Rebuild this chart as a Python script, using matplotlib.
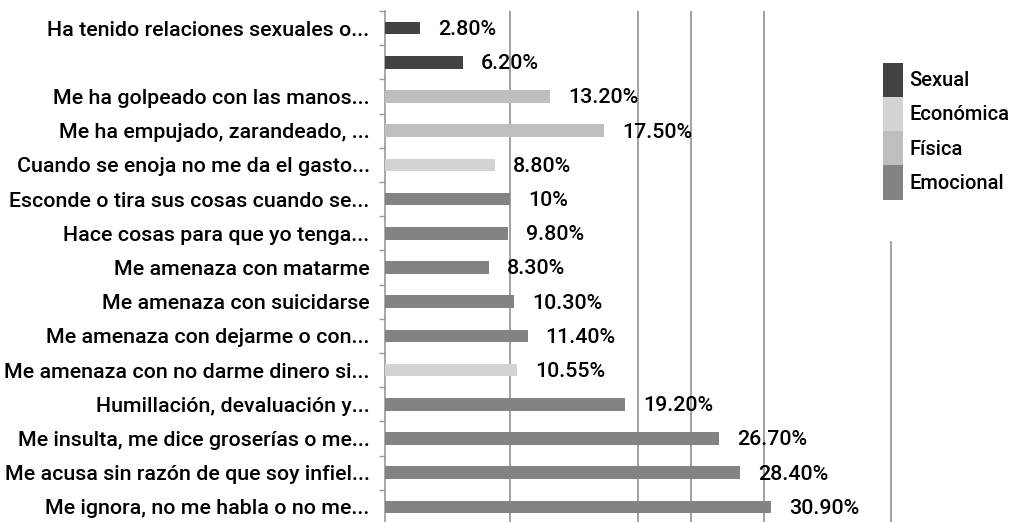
import matplotlib.pyplot as plt
from matplotlib.patches import Patch

# data, top to bottom as in the chart
labels = ["Ha tenido relaciones sexuales o...", "",
          "Me ha golpeado con las manos...", "Me ha empujado, zarandeado, ...",
          "Cuando se enoja no me da el gasto...", "Esconde o tira sus cosas cuando se...",
          "Hace cosas para que yo tenga...", "Me amenaza con matarme",
          "Me amenaza con suicidarse", "Me amenaza con dejarme o con...",
          "Me amenaza con no darme dinero si...", "Humillación, devaluación y...",
          "Me insulta, me dice groserías o me...", "Me acusa sin razón de que soy infiel...",
          "Me ignora, no me habla o no me..."]
values = [2.8, 6.2, 13.2, 17.5, 8.8, 10, 9.8, 8.3, 10.3, 11.4, 10.55, 19.2, 26.7, 28.4, 30.9]
value_text = ["2.80%", "6.20%", "13.20%", "17.50%", "8.80%", "10%", "9.80%", "8.30%",
              "10.30%", "11.40%", "10.55%", "19.20%", "26.70%", "28.40%", "30.90%"]
kinds = ["Sexual", "Sexual", "Física", "Física", "Económica", "Emocional", "Emocional",
         "Emocional", "Emocional", "Emocional", "Económica", "Emocional", "Emocional",
         "Emocional", "Emocional"]
kind_order = ["Sexual", "Económica", "Física", "Emocional"]
kind_colors = {"Sexual": "#424242", "Económica": "#d3d3d3",
               "Física": "#bebebe", "Emocional": "#838386"}
grid_x = [10, 20.2, 24.5, 30.3]

plt.rcParams['font.family'] = ['Roboto', 'DejaVu Sans']
plt.rcParams['font.weight'] = 'medium'
fs = 15.4

fig = plt.figure(figsize=(10.16, 5.22), dpi=100)
ax = fig.add_axes([385 / 1016, -0.004, 41 * 12.5 / 1016, 0.983])

y = list(range(len(values)))
ax.barh(y, values, height=0.37, color=[kind_colors[k] for k in kinds], zorder=3)

for v, yy, t in zip(values, y, value_text):
    ax.annotate(t, (v, yy), xytext=(13, -1), textcoords='offset points',
                ha='left', va='center', fontsize=fs, color='black', zorder=4)

for gx in grid_x:
    ax.axvline(gx, color='#9a9a9a', lw=1.3, zorder=1)
ax.axvline(40.5, ymax=0.55, color='#9a9a9a', lw=1.3, zorder=1)

ax.set_xlim(0, 41)
ax.set_ylim(len(values) - 0.5, -0.5)
ax.set_yticks(y)
ax.set_yticklabels(labels, fontsize=fs)
ax.set_yticks([i - 0.5 for i in range(len(values) + 1)], minor=True)
ax.tick_params(axis='y', which='major', length=0, pad=11)
ax.tick_params(axis='y', which='minor', length=4.5, color='#999999', width=1)
ax.set_xticks([])
for s in ['top', 'right', 'bottom']:
    ax.spines[s].set_visible(False)
ax.spines['left'].set_color('#999999')
ax.spines['left'].set_linewidth(1.2)

handles = [Patch(facecolor=kind_colors[k], edgecolor='none') for k in kind_order]
fig.legend(handles, kind_order, loc='upper left', bbox_to_anchor=(883 / 1016, 1 - 63 / 522),
           frameon=False, fontsize=14.5, handlelength=1.0, handleheight=2.23,
           handletextpad=0.3, labelspacing=0, borderpad=0, borderaxespad=0)

fig.savefig('out.png', dpi=100)
